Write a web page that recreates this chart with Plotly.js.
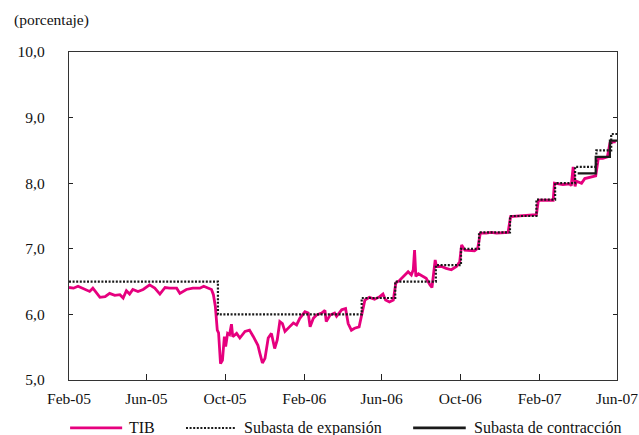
<!DOCTYPE html>
<html>
<head>
<meta charset="utf-8">
<script src="https://cdn.plot.ly/plotly-3.0.1.min.js"></script>
<style>
html,body{margin:0;padding:0;background:#fff;}
#chart{width:639px;height:435px;}
</style>
</head>
<body>
<div id="chart"></div>
<script>
// TIB (tasa interbancaria), percent
const tibDates = ["2005-02-01","2005-02-08","2005-02-15","2005-02-25","2005-03-05","2005-03-10","2005-03-16","2005-03-21","2005-03-29","2005-04-05","2005-04-13","2005-04-21","2005-04-26","2005-05-01","2005-05-06","2005-05-11","2005-05-19","2005-05-27","2005-06-06","2005-06-14","2005-06-22","2005-06-30","2005-07-07","2005-07-18","2005-07-23","2005-08-02","2005-08-12","2005-08-23","2005-08-29","2005-09-05","2005-09-10","2005-09-13","2005-09-16","2005-09-19","2005-09-21","2005-09-24","2005-09-27","2005-09-30","2005-10-02","2005-10-05","2005-10-08","2005-10-11","2005-10-13","2005-10-19","2005-10-24","2005-11-01","2005-11-08","2005-11-14","2005-11-21","2005-11-24","2005-11-28","2005-12-02","2005-12-07","2005-12-12","2005-12-17","2005-12-21","2005-12-25","2005-12-29","2006-01-02","2006-01-09","2006-01-15","2006-01-20","2006-01-25","2006-02-02","2006-02-07","2006-02-10","2006-02-15","2006-02-20","2006-02-28","2006-03-05","2006-03-07","2006-03-13","2006-03-20","2006-03-23","2006-03-31","2006-04-06","2006-04-10","2006-04-15","2006-04-20","2006-04-27","2006-05-01","2006-05-06","2006-05-13","2006-05-21","2006-05-29","2006-06-03","2006-06-07","2006-06-13","2006-06-19","2006-06-23","2006-06-29","2006-07-07","2006-07-12","2006-07-17","2006-07-20","2006-07-22","2006-07-24","2006-07-28","2006-08-04","2006-08-09","2006-08-15","2006-08-18","2006-08-23","2006-08-25","2006-09-02","2006-09-09","2006-09-17","2006-09-25","2006-09-30","2006-10-03","2006-10-08","2006-10-16","2006-10-23","2006-10-28","2006-11-01","2006-11-10","2006-11-18","2006-11-26","2006-12-06","2006-12-14","2006-12-18","2006-12-27","2007-01-11","2007-01-27","2007-01-30","2007-02-12","2007-02-22","2007-02-24","2007-03-09","2007-03-20","2007-03-22","2007-03-25","2007-03-28","2007-03-30","2007-04-07","2007-04-12","2007-04-22","2007-04-29","2007-05-03","2007-05-10","2007-05-17","2007-05-21","2007-05-26","2007-05-30"];
const tibValues = [6.41,6.40,6.43,6.38,6.35,6.40,6.32,6.26,6.27,6.32,6.29,6.30,6.25,6.36,6.31,6.38,6.35,6.38,6.45,6.40,6.31,6.41,6.40,6.40,6.32,6.38,6.40,6.40,6.43,6.40,6.38,6.30,6.12,5.76,5.72,5.25,5.30,5.66,5.51,5.71,5.69,5.85,5.66,5.71,5.64,5.74,5.76,5.66,5.53,5.41,5.26,5.33,5.64,5.71,5.48,5.61,5.89,5.86,5.74,5.81,5.87,5.84,5.94,6.04,6.02,5.81,5.94,5.99,6.02,6.06,5.89,5.99,6.02,5.97,6.07,6.09,5.86,5.76,5.79,5.81,6.02,6.22,6.26,6.23,6.27,6.31,6.22,6.19,6.22,6.48,6.52,6.60,6.65,6.60,6.68,6.98,6.58,6.62,6.58,6.55,6.45,6.41,6.83,6.73,6.73,6.70,6.68,6.73,6.80,7.06,6.98,6.98,6.97,7.01,7.24,7.24,7.25,7.24,7.25,7.25,7.49,7.50,7.51,7.52,7.74,7.74,7.74,8.00,7.98,7.99,7.96,8.25,7.95,8.03,8.00,8.07,8.10,8.11,8.38,8.38,8.40,8.61,8.63,8.63];

// Subasta de expansión (step)
const expDates = ["2005-02-01","2005-09-20","2006-05-01","2006-06-22","2006-08-24","2006-10-02","2006-10-30","2006-12-17","2007-01-27","2007-02-25","2007-03-28","2007-04-30","2007-05-23","2007-06-01"];
const expValues = [6.50,6.00,6.25,6.50,6.75,7.00,7.25,7.50,7.75,8.00,8.25,8.50,8.75,8.75];

// Subasta de contracción (step)
const conDates = ["2007-04-01","2007-04-29","2007-05-21","2007-06-01"];
const conValues = [8.15,8.40,8.65,8.65];

const seriesNames = ["TIB","Subasta de expansión","Subasta de contracción"];
const seriesColors = ["#E6007E","#1a1a1a","#1a1a1a"];

const FONT = "Liberation Serif";

const traces = [
  {x: tibDates, y: tibValues, type: "scatter", mode: "lines", name: seriesNames[0],
   line: {color: seriesColors[0], width: 2.8}, showlegend: false},
  {x: expDates, y: expValues, type: "scatter", mode: "lines", name: seriesNames[1],
   line: {color: seriesColors[1], width: 2.2, dash: "2px,1.6px", shape: "hv"}, showlegend: false},
  {x: conDates, y: conValues, type: "scatter", mode: "lines", name: seriesNames[2],
   line: {color: seriesColors[2], width: 2.2, shape: "hv"}, showlegend: false}
];

// custom legend row below the plot
const legY = -0.146;
const legItems = [
  {x0: 0.002, x1: 0.097, tx: 0.106, dash: "solid"},
  {x0: 0.2135, x1: 0.303, tx: 0.316, dash: "2px,1.6px"},
  {x0: 0.628, x1: 0.724, tx: 0.735, dash: "solid"}
];
const shapes = legItems.map((it, i) => ({
  type: "line", xref: "paper", yref: "paper", x0: it.x0, x1: it.x1, y0: legY, y1: legY,
  line: {color: seriesColors[i], width: i === 1 ? 2 : 2.8, dash: it.dash}
}));
const annotations = legItems.map((it, i) => ({
  xref: "paper", yref: "paper", x: it.tx, y: legY, xanchor: "left", yanchor: "middle",
  text: seriesNames[i], showarrow: false, font: {family: FONT, size: 16, color: "#111"}
}));
annotations.push({
  xref: "paper", yref: "paper", x: -0.104, y: 1.098, xanchor: "left", yanchor: "middle",
  text: "(porcentaje)", showarrow: false, font: {family: FONT, size: 15.5, color: "#111"}
});

const layout = {
  width: 639, height: 435,
  margin: {l: 69, r: 22, t: 52, b: 55, pad: 0},
  paper_bgcolor: "#fff", plot_bgcolor: "#fff",
  separators: ",.",
  font: {family: FONT, size: 15.5, color: "#111"},
  showlegend: false,
  xaxis: {
    type: "date", range: ["2005-02-01", "2007-06-01"],
    tick0: "2005-02-01", dtick: "M4", tickformat: "%b-%y",
    ticks: "inside", ticklen: 6, tickcolor: "#222", tickwidth: 1,
    showline: true, linecolor: "#333", linewidth: 1.2, mirror: true,
    showgrid: false, zeroline: false, ticklabelstandoff: 4,
    tickfont: {family: FONT, size: 15.5, color: "#111"}
  },
  yaxis: {
    range: [5, 10], dtick: 1, tick0: 5, tickformat: ".1f",
    ticks: "inside", ticklen: 4, tickcolor: "#222", tickwidth: 1,
    showline: true, linecolor: "#333", linewidth: 1.2, mirror: "ticks",
    showgrid: false, zeroline: false, ticklabelstandoff: 20,
    tickfont: {family: FONT, size: 15.5, color: "#111"}
  },
  shapes: shapes,
  annotations: annotations
};

Plotly.newPlot("chart", traces, layout, {displayModeBar: false, staticPlot: true});
</script>
</body>
</html>
